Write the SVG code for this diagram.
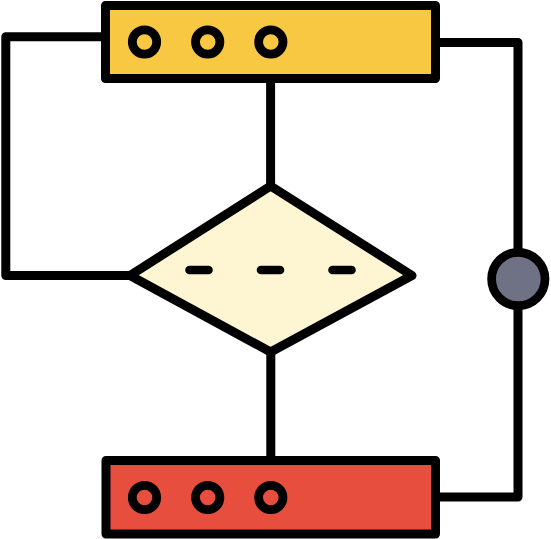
<svg xmlns="http://www.w3.org/2000/svg" width="551" height="539" viewBox="0 0 551 539">
  <style>
    .ln { fill: none; stroke: #000; stroke-width: 9; stroke-linejoin: round; }
    .box { stroke: #000; stroke-width: 9; stroke-linejoin: round; }
    .dot { fill: none; stroke: #000; stroke-width: 8.8; }
    .dash { stroke: #000; stroke-width: 8.6; stroke-linecap: round; }
  </style>
  <rect width="551" height="539" fill="#fff"/>
  <g id="connectors">
    <path class="ln" d="M105.5 36.7 H5.8 V275.5 H131"/>
    <path class="ln" d="M435.5 42.5 H518 V497 H435.5"/>
    <path class="ln" d="M270.6 78.5 V186"/>
    <path class="ln" d="M270.8 352 V460.5"/>
  </g>
  <g id="node-top">
    <rect class="box" x="105.5" y="5.5" width="330" height="73" fill="#F9C843"/>
    <circle class="dot" cx="144.5" cy="42" r="12.2"/>
    <circle class="dot" cx="207.7" cy="42" r="12.2"/>
    <circle class="dot" cx="270.8" cy="42" r="12.2"/>
  </g>
  <g id="node-decision">
    <path class="box" d="M270.6 186 L412 275.5 L270.6 352 L130 275.5 Z" fill="#FEF6D3"/>
    <line class="dash" x1="189.5" y1="270" x2="208.5" y2="270"/>
    <line class="dash" x1="261" y1="270" x2="280" y2="270"/>
    <line class="dash" x1="332.5" y1="270" x2="351.5" y2="270"/>
  </g>
  <g id="node-junction">
    <circle cx="518.3" cy="279" r="26.7" fill="#6F7184" stroke="#000" stroke-width="8.7"/>
  </g>
  <g id="node-bottom">
    <rect class="box" x="106" y="460.5" width="329.5" height="73.5" fill="#E84E3E"/>
    <circle class="dot" cx="144.5" cy="497.5" r="12.2"/>
    <circle class="dot" cx="207.7" cy="497.5" r="12.2"/>
    <circle class="dot" cx="270.8" cy="497.5" r="12.2"/>
  </g>
</svg>
